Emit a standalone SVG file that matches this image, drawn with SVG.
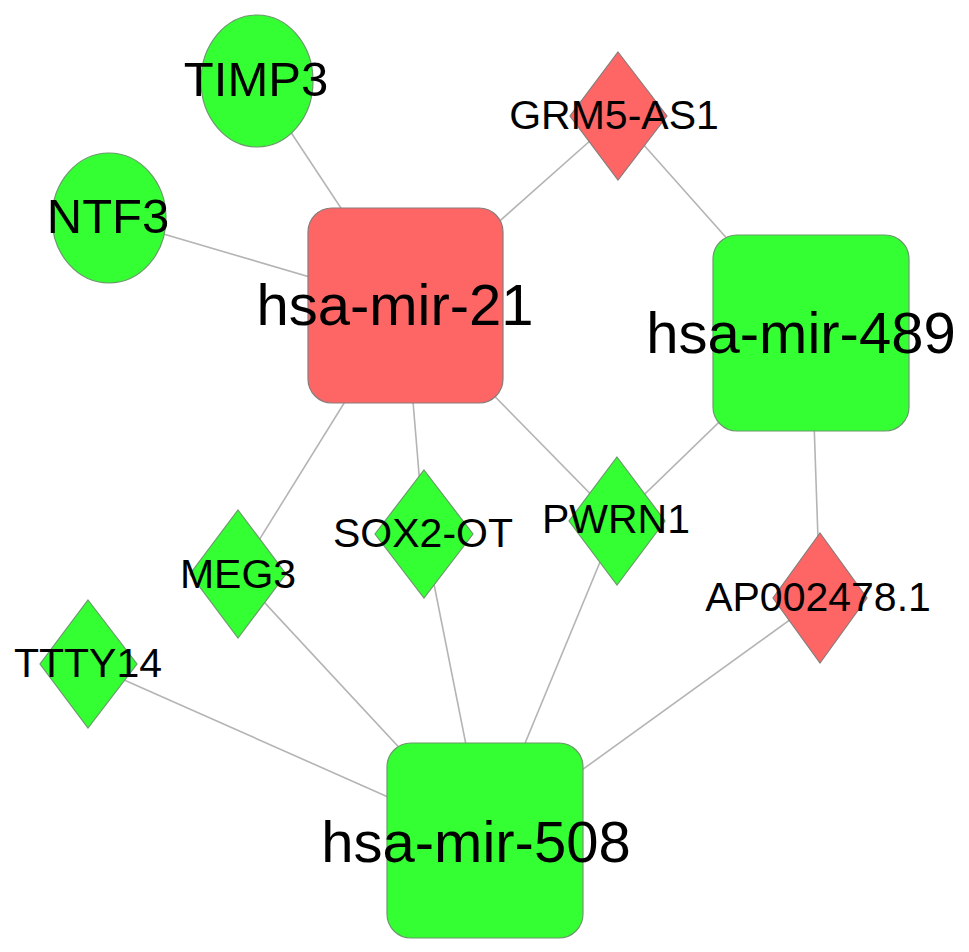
<svg xmlns="http://www.w3.org/2000/svg" width="969" height="952" viewBox="0 0 969 952">
<style>
.edge{stroke:#b4b4b4;stroke-width:1.6;fill:none}
.red{fill:#fe6666;stroke:#8a7a7a;stroke-width:1.2}
.green{fill:#33ff33;stroke:#6a9a6a;stroke-width:1.2}
text{font-family:"Liberation Sans",Arial,sans-serif;fill:#000;text-anchor:middle}
.big{font-size:58px}
.mid{font-size:49px}
.sm{font-size:41px}
</style>
<rect width="969" height="952" fill="#fff"/>
<g id="edges">
<line class="edge" x1="257" y1="81" x2="405" y2="305"/>
<line class="edge" x1="109" y1="218" x2="405" y2="305"/>
<line class="edge" x1="618" y1="116" x2="405" y2="305"/>
<line class="edge" x1="618" y1="116" x2="811" y2="333"/>
<line class="edge" x1="405" y1="305" x2="238" y2="574"/>
<line class="edge" x1="405" y1="305" x2="424" y2="534"/>
<line class="edge" x1="405" y1="305" x2="617" y2="521"/>
<line class="edge" x1="811" y1="333" x2="617" y2="521"/>
<line class="edge" x1="811" y1="333" x2="820" y2="598"/>
<line class="edge" x1="485" y1="840" x2="88" y2="664"/>
<line class="edge" x1="485" y1="840" x2="238" y2="574"/>
<line class="edge" x1="485" y1="840" x2="424" y2="534"/>
<line class="edge" x1="485" y1="840" x2="617" y2="521"/>
<line class="edge" x1="485" y1="840" x2="820" y2="598"/>
</g>
<g id="TIMP3"><ellipse class="green" cx="257" cy="81" rx="56" ry="66"/><text class="mid" x="256" y="96">TIMP3</text></g>
<g id="NTF3"><ellipse class="green" cx="109" cy="218" rx="57" ry="65"/><text class="mid" x="108" y="233">NTF3</text></g>
<g id="hsa-mir-21"><rect class="red" x="308" y="208" width="195" height="195" rx="24"/><text class="big" x="395" y="325">hsa-mir-21</text></g>
<g id="hsa-mir-489"><rect class="green" x="713" y="235" width="196" height="196" rx="24"/><text class="big" x="801" y="353">hsa-mir-489</text></g>
<g id="hsa-mir-508"><rect class="green" x="387" y="743" width="196" height="195" rx="24"/><text class="big" x="476" y="862">hsa-mir-508</text></g>
<g id="GRM5-AS1"><polygon class="red" points="618,52 667,116 618,180 570,116"/><text class="sm" x="614" y="129">GRM5-AS1</text></g>
<g id="SOX2-OT"><polygon class="green" points="424,470 473,534 424,598 375,534"/><text class="sm" x="423" y="547">SOX2-OT</text></g>
<g id="PWRN1"><polygon class="green" points="617,457 665,521 617,585 569,521"/><text class="sm" x="616" y="533">PWRN1</text></g>
<g id="MEG3"><polygon class="green" points="238,510 286,574 238,638 190,574"/><text class="sm" x="238" y="588">MEG3</text></g>
<g id="TTTY14"><polygon class="green" points="88,600 137,664 88,728 40,664"/><text class="sm" x="88" y="677">TTTY14</text></g>
<g id="AP002478.1"><polygon class="red" points="820,533 867,598 820,663 773,598"/><text class="sm" x="818" y="611">AP002478.1</text></g>
</svg>
